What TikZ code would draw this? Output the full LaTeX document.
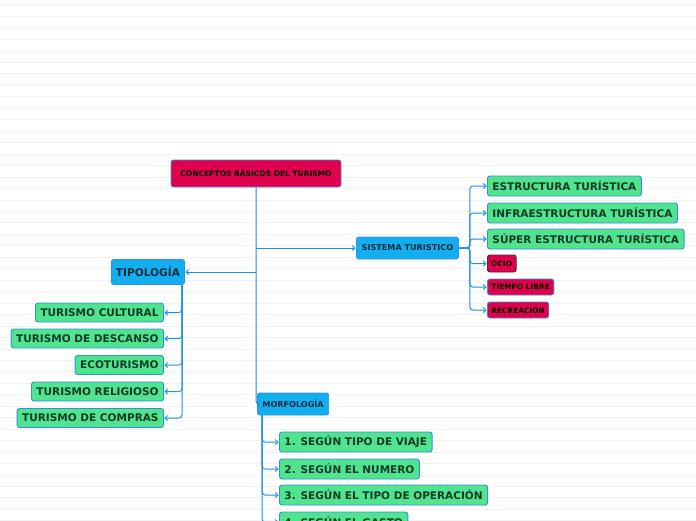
\documentclass[tikz,border=0pt]{standalone}
\usepackage{fontspec}
\setmainfont{DejaVu Sans}
\usetikzlibrary{arrows.meta}
\definecolor{linecol}{RGB}{30,144,228}
\definecolor{bordercol}{RGB}{50,145,220}
\definecolor{greenfill}{RGB}{80,228,142}
\definecolor{greentext}{RGB}{18,58,40}
\definecolor{bluefill}{RGB}{18,174,240}
\definecolor{bluetext}{RGB}{12,45,58}
\definecolor{redfill}{RGB}{224,0,77}
\definecolor{bgline}{RGB}{242,242,242}
\begin{document}
\begin{tikzpicture}[x=1pt,y=-1pt,
  box/.style={draw=bordercol, line width=0.9pt, rounded corners=2.5pt, inner xsep=5pt, inner ysep=0pt},
  greenbox/.style={box, fill=greenfill, text=greentext, minimum height=20pt, font=\bfseries\fontsize{10.5}{12}\selectfont},
  bluebig/.style={box, fill=bluefill, text=bluetext, minimum height=25pt, inner xsep=4.5pt, font=\bfseries\fontsize{10.6}{12}\selectfont},
  bluesmall/.style={box, fill=bluefill, text=bluetext, minimum height=22pt, font=\bfseries\fontsize{8.1}{9}\selectfont},
  redsmall/.style={box, fill=redfill, text=black, inner xsep=4pt, font=\bfseries\fontsize{7.4}{8}\selectfont},
  rootbox/.style={box, fill=redfill, text=black, minimum height=27pt, minimum width=170pt, font=\bfseries\fontsize{7.5}{9}\selectfont},
  conn/.style={draw=linecol, line width=1pt, rounded corners=3pt},
  arr/.style={conn, -{Straight Barb[length=2.5pt,width=5pt]}, shorten >=0.5pt}
]
\useasboundingbox (0,0) rectangle (696,520);
\fill[white] (0,0) rectangle (696,520);
\foreach \i in {0,...,45} \draw[bgline, line width=0.6pt] (0,5+11.46*\i) -- (696,5+11.46*\i);

% main nodes
\node[rootbox] (root) at (256,173.5) {CONCEPTOS BÁSICOS DEL TURISMO};
\node[bluesmall, anchor=west, minimum width=102pt] (sist) at (356,248) {SISTEMA TURISTICO};
\node[bluebig, anchor=east] (tip) at (185,272) {TIPOLOGÍA};
\node[bluesmall, anchor=west, minimum width=70pt] (morf) at (257,404) {MORFOLOGÍA};

% sistema children
\node[greenbox, anchor=west] (s1) at (487,186) {ESTRUCTURA TURÍSTICA};
\node[greenbox, anchor=west] (s2) at (487,213) {INFRAESTRUCTURA TURÍSTICA};
\node[greenbox, anchor=west] (s3) at (487,239) {SÚPER ESTRUCTURA TURÍSTICA};
\node[redsmall, draw=black!80, anchor=west, minimum height=17pt] (s4) at (487,263.5) {OCIO};
\node[redsmall, anchor=west, minimum height=16pt] (s5) at (487,287) {TIEMPO LIBRE};
\node[redsmall, anchor=west, minimum height=16pt] (s6) at (487,310) {RECREACIÓN};

% tipologia children
\node[greenbox, anchor=east, minimum height=19pt] (t1) at (164,312.5) {TURISMO CULTURAL};
\node[greenbox, anchor=east, minimum height=19pt] (t2) at (164,338.5) {TURISMO DE DESCANSO};
\node[greenbox, anchor=east, minimum height=19pt] (t3) at (164,365) {ECOTURISMO};
\node[greenbox, anchor=east, minimum height=19pt] (t4) at (164,391.5) {TURISMO RELIGIOSO};
\node[greenbox, anchor=east, minimum height=19pt] (t5) at (164,418) {TURISMO DE COMPRAS};

% morfologia children
\node[greenbox, anchor=west] (m1) at (279,442) {1. SEGÚN TIPO DE VIAJE};
\node[greenbox, anchor=west] (m2) at (279,469) {2. SEGÚN EL NUMERO};
\node[greenbox, anchor=west] (m3) at (279,495) {3. SEGÚN EL TIPO DE OPERACIÓN};
\node[greenbox, anchor=west] (m4) at (279,522) {4. SEGÚN EL GASTO};

% trunk connectors
\draw[conn] (root.south) |- (morf.west);
\draw[arr] (root.south |- sist.west) -- (sist.west);
\draw[arr] (root.south |- tip.east) -- (tip.east);

% sistema connectors
\foreach \c in {s1,s2,s3,s4,s5,s6}
  \draw[arr] (sist.east) -- ++(11,0) |- (\c.west);

% tipologia connectors
\foreach \c in {t1,t2,t3,t4,t5}
  \draw[arr] ([xshift=-3pt]tip.south east) |- (\c.east);

% morfologia connectors
\foreach \c in {m1,m2,m3,m4}
  \draw[arr] ([xshift=5pt]morf.south west) |- (\c.west);
\end{tikzpicture}
\end{document}
